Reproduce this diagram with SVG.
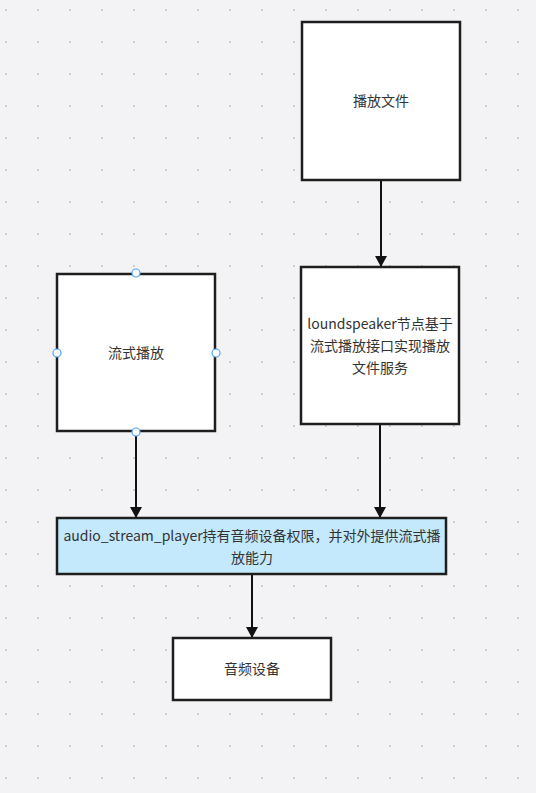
<svg xmlns="http://www.w3.org/2000/svg" width="536" height="793" viewBox="0 0 536 793">
<defs>
<pattern id="dots" x="0" y="0" width="32" height="32" patternUnits="userSpaceOnUse">
<rect x="5" y="9" width="2" height="2" fill="#cfcfd2"/>
</pattern>
<marker id="arr" markerWidth="11" markerHeight="12" refX="10" refY="6" orient="auto" markerUnits="userSpaceOnUse" viewBox="0 0 11 12">
<path d="M0,0 L11,6 L0,12 Z" fill="#111"/>
</marker>
<style>
.box{fill:#fff;stroke:#1e1e1e;stroke-width:2.5}
.blue{fill:#c4e9fd}
.t{font-family:"Noto Sans CJK SC","Noto Sans",sans-serif;font-size:14px;fill:#333;text-anchor:middle}
.c{stroke:#111;stroke-width:2;fill:none}
.h{fill:#fff;stroke:#4ea4f7;stroke-width:1.2}
</style>
</defs>
<rect width="536" height="793" fill="#f3f3f5"/>
<rect width="536" height="793" fill="url(#dots)"/>
<g id="connectors">
<path class="c" d="M381,181 V266" marker-end="url(#arr)"/>
<path class="c" d="M136,432 V517" marker-end="url(#arr)"/>
<path class="c" d="M380,425 V517" marker-end="url(#arr)"/>
<path class="c" d="M252,575 V637" marker-end="url(#arr)"/>
</g>
<g id="node-playfile">
<rect class="box" x="302" y="22" width="158" height="158"/>
<text class="t" x="381" y="106">播放文件</text>
</g>
<g id="node-stream">
<rect class="box" x="57" y="274" width="158" height="157"/>
<text class="t" x="136" y="358">流式播放</text>
<circle class="h" cx="136" cy="273" r="4"/>
<circle class="h" cx="57" cy="353" r="4"/>
<circle class="h" cx="216" cy="353" r="4"/>
<circle class="h" cx="136" cy="432" r="4"/>
</g>
<g id="node-loudspeaker">
<rect class="box" x="301" y="267" width="158" height="157"/>
<text class="t" x="380" y="329">loundspeaker节点基于</text>
<text class="t" x="380" y="351">流式播放接口实现播放</text>
<text class="t" x="380" y="373">文件服务</text>
</g>
<g id="node-player">
<rect class="box blue" x="57" y="518" width="389" height="56"/>
<text class="t" x="252" y="541">audio_stream_player持有音频设备权限，并对外提供流式播</text>
<text class="t" x="252" y="563">放能力</text>
</g>
<g id="node-device">
<rect class="box" x="173" y="638" width="158" height="62"/>
<text class="t" x="252" y="674">音频设备</text>
</g>
</svg>
